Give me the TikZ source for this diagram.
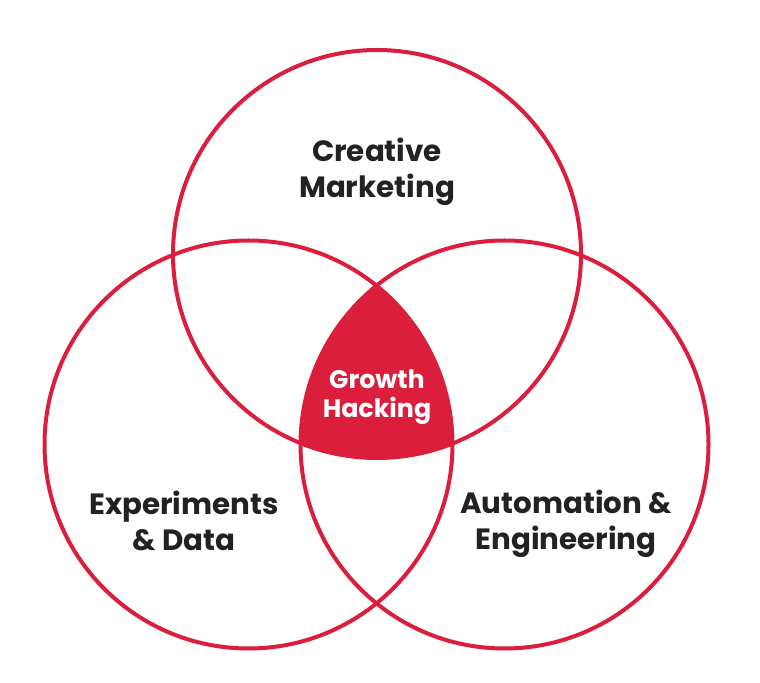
\documentclass[tikz,border=0pt]{standalone}
\usepackage{fontspec}
\setmainfont{Poppins}
\usepackage{tikz}
\usetikzlibrary{positioning}
\definecolor{vennred}{RGB}{218,30,60}
\definecolor{labeltext}{RGB}{34,34,34}

\begin{document}
\begin{tikzpicture}[x=0.75pt, y=0.75pt]
  \useasboundingbox (0,0) rectangle (760,682);
  % circle centres
  \coordinate (Ctop) at (377,428);
  \coordinate (Cleft) at (248.5,237.5);
  \coordinate (Cright) at (504.5,237.5);
  \def\vennr{204}
  % shared region
  \begin{scope}
    \clip (Ctop) circle (\vennr);
    \clip (Cleft) circle (\vennr);
    \fill[vennred] (Cright) circle (\vennr);
  \end{scope}
  \draw[line width=3pt, vennred] (Ctop) circle (\vennr);
  \draw[line width=3pt, vennred] (Cleft) circle (\vennr);
  \draw[line width=3pt, vennred] (Cright) circle (\vennr);
  % labels
  \node[align=center, font=\bfseries\fontsize{22}{27}\selectfont, text=labeltext] (marketing) at (377,510) {Creative\\Marketing};
  \node[align=center, font=\bfseries\fontsize{22}{27}\selectfont, text=labeltext] (data) at (184,161) {Experiments\\\& Data};
  \node[align=center, font=\bfseries\fontsize{22}{27}\selectfont, text=labeltext] (engineering) at (566,158) {Automation \&\\Engineering};
  \node[align=center, font=\bfseries\fontsize{19}{22}\selectfont, text=white] (growth) at (377,285) {Growth\\Hacking};
\end{tikzpicture}
\end{document}
